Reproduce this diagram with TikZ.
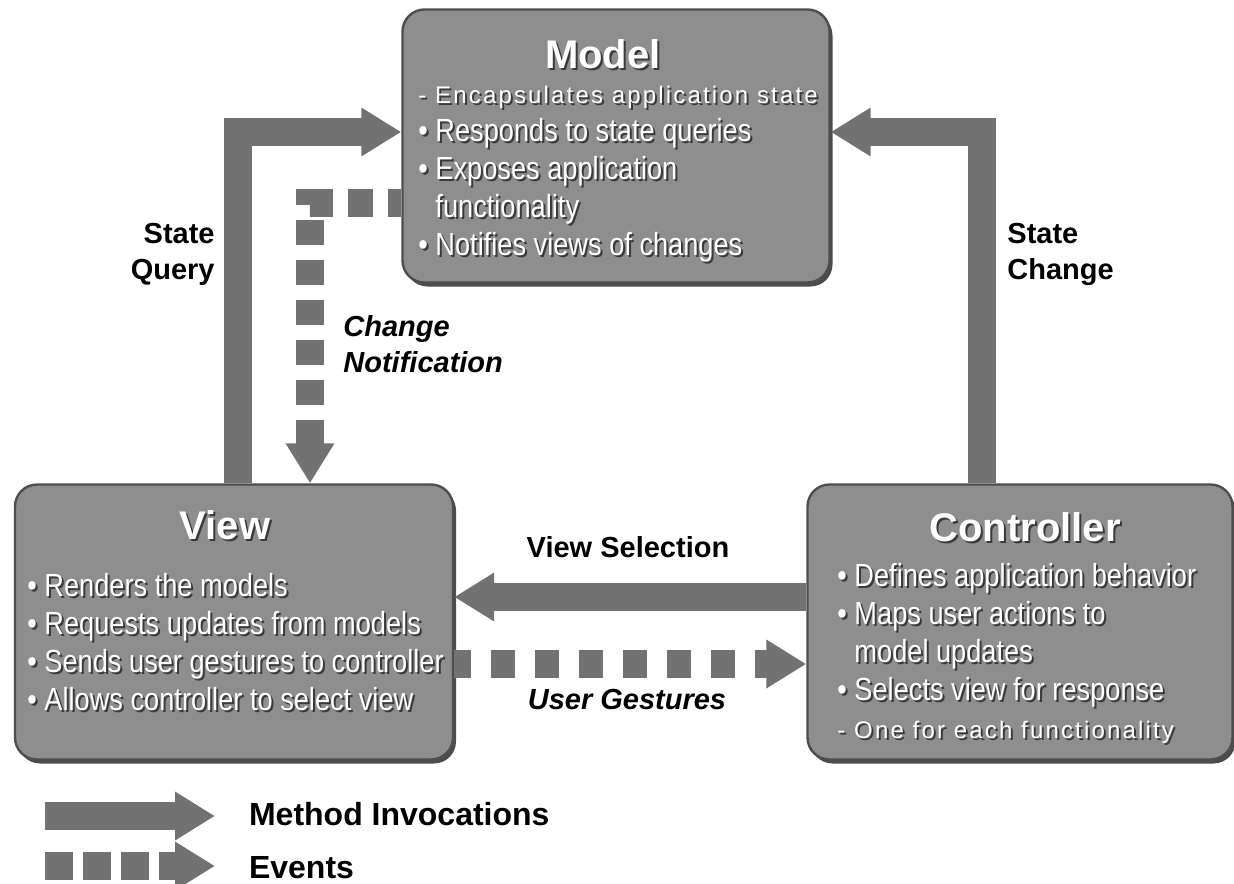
\documentclass[tikz,border=0pt]{standalone}
\usepackage{fontspec}
\setmainfont{Liberation Sans}
\newfontfamily\boxfont[FakeStretch=0.85]{Liberation Sans}
\newfontfamily\widefont[LetterSpace=9]{Liberation Sans}
\usepackage{xcolor}
\usetikzlibrary{arrows.meta, shadows}
\definecolor{mvcbox}{HTML}{8E8E8E}
\definecolor{mvcedge}{HTML}{4E4E4E}
\definecolor{mvcarrow}{HTML}{727272}
\definecolor{mvcshade}{HTML}{3A3A3A}
\newcommand{\shd}[1]{\leavevmode\rlap{\kern1pt\raisebox{-1pt}{\textcolor{mvcshade}{#1}}}#1}

\begin{document}
\begin{tikzpicture}[x=0.5pt, y=-0.5pt,
      comp/.style={rectangle, rounded corners=11pt, draw=mvcedge, line width=1.2pt, fill=mvcbox, minimum width=213pt, minimum height=137.5pt, drop shadow={shadow xshift=1.5pt, shadow yshift=-2pt, fill=black, opacity=0.7}},
      ttl/.style={text=white, font=\fontsize{20}{24}\selectfont\bfseries},
      bodytext/.style={text=white, align=left, inner sep=0pt, font=\boxfont\fontsize{16}{19}\selectfont},
      lbl/.style={align=left, inner sep=0pt, font=\fontsize{14.5}{18}\selectfont\bfseries},
      method/.style={-{Triangle[length=20pt, width=23pt]}, line width=14pt, mvcarrow},
      event/.style={method, dash pattern=on 12.5pt off 7.5pt},
    ]
    \useasboundingbox (0,0) rectangle (1234,883);

    \node[comp, minimum width=213.5pt, minimum height=136.5pt] (model) at (616,146) {};
    \node[ttl] (modeltitle) at (603,55) {\shd{Model}};
    \node[bodytext, anchor=north west] (modeltext) at (418,86) {{\widefont\fontsize{12}{14}\selectfont\shd{- Encapsulates application state}}\\
      \shd{• Responds to state queries}\\ \shd{• Exposes application}\\ \shd{\phantom{• }functionality}\\ \shd{• Notifies views of changes}};

    \node[comp, minimum width=219pt] (view) at (234,622) {};
    \node[ttl] (viewtitle) at (225,526) {\shd{View}};
    \node[bodytext, anchor=north west] (viewtext) at (27,573) {\shd{• Renders the models}\\ \shd{• Requests updates from models}\\
      \shd{• Sends user gestures to controller}\\ \shd{• Allows controller to select view}};

    \node[comp, minimum width=212.5pt] (ctrl) at (1020,622) {};
    \node[ttl] (ctrltitle) at (1025,528) {\shd{Controller}};
    \node[bodytext, anchor=north west] (ctrltext) at (837,563) {\shd{• Defines application behavior}\\ \shd{• Maps user actions to}\\
      \shd{\phantom{• }model updates}\\ \shd{• Selects view for response}\\ {\widefont\fontsize{12}{14}\selectfont\shd{- One for each functionality}}};

    % bends and lanes of the connectors
    \coordinate (qcorner) at (238,132);
    \coordinate (ccorner) at (982,132);
    \coordinate (ncorner) at (310,203);
    \coordinate (vsel) at (630,597);
    \coordinate (ugest) at (630,664);

    \draw[method] (view.north -| qcorner) -- (qcorner) -- (model.west |- qcorner);
    \draw[method] (ctrl.north -| ccorner) -- (ccorner) -- (model.east |- ccorner);
    \draw[method] (ctrl.west |- vsel) -- (view.east |- vsel);
    \draw[event, dash phase=6pt] (model.west |- ncorner) -- (ncorner) -- (ncorner |- view.north);
    \draw[event, dash pattern=on 12pt off 10pt, dash phase=3.5pt] (view.east |- ugest) -- (ctrl.west |- ugest);

    \node[lbl, align=right, anchor=east] (querylbl) at (215,254) {State\\Query};
    \node[lbl, anchor=west] (changelbl) at (1007,254) {State\\Change};
    \node[lbl, anchor=west, font=\fontsize{14.5}{18}\selectfont\bfseries\itshape] (notelbl) at (343,344) {Change\\Notification};
    \node[lbl] (selectlbl) at (628,547) {View Selection};
    \node[lbl, font=\fontsize{14.5}{18}\selectfont\bfseries\itshape] (gesturelbl) at (627,700) {User Gestures};

    % legend
    \coordinate (mstart) at (45,816);
    \coordinate (mend) at (215,816);
    \coordinate (estart) at (45,866);
    \coordinate (eend) at (215,866);
    \draw[method] (mstart) -- (mend);
    \draw[event, dash pattern=on 14pt off 5pt] (estart) -- (eend);
    \node[anchor=west, font=\fontsize{16}{19}\selectfont\bfseries] (methodlbl) at (242,814) {Method Invocations};
    \node[anchor=west, font=\fontsize{16}{19}\selectfont\bfseries] (eventlbl) at (242,868) {Events};
  \end{tikzpicture}
\end{document}
